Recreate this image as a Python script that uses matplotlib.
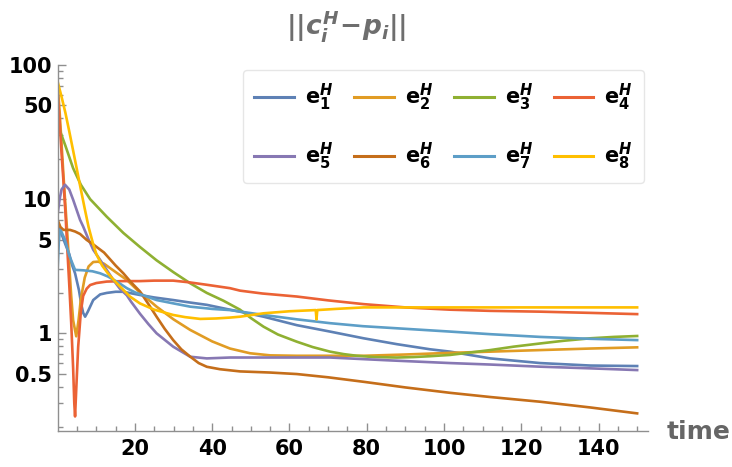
import matplotlib
matplotlib.use("Agg")
import matplotlib.pyplot as plt
from matplotlib.ticker import FixedLocator, NullFormatter

plt.rcParams['font.family'] = ['DejaVu Sans']
plt.rcParams['mathtext.fontset'] = 'custom'
plt.rcParams['mathtext.rm'] = 'DejaVu Sans:bold'
plt.rcParams['mathtext.bf'] = 'DejaVu Sans:bold'
plt.rcParams['mathtext.it'] = 'DejaVu Sans:bold:italic'

# ---- series: error norms over time ----
t1 = [0, 1, 2, 3, 3.6, 4.5, 5.5, 6.1, 6.6, 7.1, 7.8, 9.2, 11, 12.7, 15, 17, 21.3, 25, 29.9, 34, 38.6,
      44.6, 47.2, 53.3, 61.9, 70.5, 79.2, 87.8, 96.4, 101.6, 112, 124.9, 137.9, 150]
e1 = [6.5, 5.5, 4.6, 3.9, 3.3, 2.8, 2.1, 1.65, 1.42, 1.33, 1.45, 1.77, 1.95, 2.0, 2.04, 2.04, 1.93, 1.85,
      1.77, 1.7, 1.63, 1.5, 1.45, 1.33, 1.15, 1.03, 0.918, 0.83, 0.76, 0.73, 0.65, 0.60, 0.575, 0.57]

t2 = [0, 0.5, 1, 1.5, 2, 2.5, 3, 3.5, 4, 4.8, 5.4, 6, 7, 8, 9.2, 10.5, 12, 14, 17.9, 21, 25.6, 30, 34.3,
      40, 44.6, 49.8, 55, 61.9, 70, 79.2, 90, 101.6, 112, 124.9, 137.9, 150]
e2 = [72, 45, 26, 15, 9, 5.5, 3.2, 1.9, 1.25, 0.95, 1.25, 1.8, 2.6, 3.15, 3.4, 3.42, 3.3, 3.0, 2.5, 2.05,
      1.58, 1.27, 1.06, 0.87, 0.77, 0.71, 0.685, 0.68, 0.68, 0.68, 0.695, 0.715, 0.73, 0.75, 0.77, 0.786]

t3 = [0, 1, 2, 4, 6, 8.4, 12.7, 17, 21.3, 25.6, 30, 34.3, 38.6, 42.9, 47.2, 50, 53.3, 57, 61.9, 66, 70.5,
      74, 77.4, 82, 87.8, 92, 96.4, 101.6, 106, 112, 118, 124.9, 131, 137.9, 144, 150]
e3 = [36, 30, 25, 17, 12.8, 10, 7.4, 5.6, 4.4, 3.5, 2.85, 2.36, 2.0, 1.75, 1.5, 1.3, 1.12, 0.98, 0.866,
      0.79, 0.73, 0.70, 0.68, 0.665, 0.66, 0.665, 0.675, 0.69, 0.715, 0.75, 0.795, 0.84, 0.88, 0.918,
      0.94, 0.955]

t4 = [0, 0.5, 1, 1.5, 2, 2.5, 3, 3.5, 4, 4.3, 4.5, 4.8, 5.3, 6, 6.6, 7.5, 8.4, 10, 12.7, 17, 21.3, 25,
      29.9, 34, 38.6, 44.6, 47.2, 53, 61.9, 70, 79.2, 90, 101.6, 112, 124.9, 137.9, 150]
e4 = [62, 38, 22, 13.5, 8, 4.2, 2.3, 1.2, 0.55, 0.3, 0.24, 0.38, 0.79, 1.45, 1.9, 2.15, 2.29, 2.37, 2.43,
      2.45, 2.45, 2.47, 2.47, 2.4, 2.3, 2.17, 2.08, 1.98, 1.88, 1.76, 1.65, 1.56, 1.5, 1.47, 1.45, 1.42,
      1.39]

t5 = [0, 0.5, 1, 1.9, 3, 4, 5.8, 6.6, 8, 9.2, 11, 14.4, 16.1, 17.9, 19, 21.3, 23.5, 25.6, 29.9, 34.3,
      38.6, 44.6, 55, 70.5, 85, 101.6, 112, 124.9, 137.9, 150]
e5 = [7.8, 10, 11.8, 12.8, 11.8, 9.9, 7.0, 6.25, 5.0, 4.2, 3.52, 2.5, 2.15, 1.92, 1.72, 1.4, 1.17, 1.0,
      0.795, 0.669, 0.65, 0.66, 0.66, 0.66, 0.63, 0.60, 0.585, 0.564, 0.548, 0.532]

t6 = [0, 0.7, 1.5, 3.2, 4.5, 5.8, 7.5, 9.2, 12, 15, 17, 19, 21.3, 23.5, 25.6, 27.7, 29.9, 32, 34.3, 36.5,
      38.6, 42, 47.2, 55, 61.9, 70, 79.2, 90, 101.6, 112, 124.9, 137.9, 150]
e6 = [7.0, 6.2, 5.9, 5.9, 5.74, 5.5, 4.97, 4.6, 4.0, 3.2, 2.8, 2.4, 2.05, 1.65, 1.33, 1.08, 0.89, 0.76,
      0.67, 0.6, 0.563, 0.54, 0.52, 0.51, 0.497, 0.47, 0.435, 0.395, 0.36, 0.335, 0.309, 0.28, 0.253]

t7 = [0, 0.3, 0.6, 1.0, 1.9, 3, 4.5, 6.6, 9, 11, 13, 15.3, 17.9, 20, 25.6, 30, 34.3, 40, 44.6, 53.3, 62,
      70.5, 79, 87.8, 101.6, 112, 124.9, 137.9, 150]
e7 = [3.06, 4.8, 5.9, 5.7, 4.97, 3.8, 2.97, 2.95, 2.9, 2.8, 2.65, 2.43, 2.17, 2.02, 1.77, 1.67, 1.58,
      1.52, 1.49, 1.37, 1.27, 1.19, 1.13, 1.09, 1.03, 0.985, 0.94, 0.91, 0.89]

t8 = [0, 1, 2, 3, 4, 5, 6, 7, 8, 9.2, 10, 11.5, 13, 15.3, 18.7, 21.3, 25, 29.9, 33, 36.9, 41, 44.6, 47.2,
      53.3, 60, 66.8, 67.0, 67.2, 72, 79.2, 90, 101.6, 125, 150]
e8 = [75, 58, 44, 32, 23, 16.5, 11.8, 8.5, 6.2, 4.6, 3.9, 3.2, 2.8, 2.36, 1.88, 1.67, 1.5, 1.37, 1.32,
      1.28, 1.29, 1.31, 1.33, 1.41, 1.46, 1.49, 1.27, 1.49, 1.52, 1.56, 1.56, 1.56, 1.56, 1.56]

series = [(t1, e1), (t2, e2), (t3, e3), (t4, e4), (t5, e5), (t6, e6), (t7, e7), (t8, e8)]
labels = [r'$\mathrm{e}_{%d}^{H}$' % k for k in range(1, 9)]
colors = ['#5E81B5', '#E19C24', '#8FB032', '#EB6235', '#8778B3', '#C56E1A', '#5D9EC7', '#FFBF00']

x_ticks = [20, 40, 60, 80, 100, 120, 140]
y_ticks = [0.5, 1, 5, 10, 50, 100]
y_ticklabels = ['0.5', '1', '5', '10', '50', '100']

fig = plt.figure(figsize=(7.32, 4.67), dpi=100)
ax = fig.add_axes([0.0788, 0.0771, 0.8064, 0.7837])

handles = []
for (tt, vv), lab, c in zip(series, labels, colors):
    h, = ax.plot(tt, vv, color=c, lw=1.9, label=lab, solid_joinstyle='round')
    handles.append(h)

ax.set_yscale('log')
ax.set_xlim(0, 152.8)
ax.set_ylim(0.187, 100)

axis_gray = '#8f8f8f'
for s in ['top', 'right']:
    ax.spines[s].set_visible(False)
for s in ['left', 'bottom']:
    ax.spines[s].set_color(axis_gray)
    ax.spines[s].set_linewidth(1.0)

ax.xaxis.set_major_locator(FixedLocator(x_ticks))
ax.xaxis.set_minor_locator(FixedLocator([v for v in range(5, 155, 5) if v % 20]))
ax.yaxis.set_major_locator(FixedLocator(y_ticks))
ax.set_yticklabels(y_ticklabels)
minor_y = [m * d for d in (0.1, 1, 10) for m in range(2, 10) if m * d not in y_ticks and m * d >= 0.187]
ax.yaxis.set_minor_locator(FixedLocator(minor_y))
ax.yaxis.set_minor_formatter(NullFormatter())

ax.tick_params(which='both', direction='in', color=axis_gray, width=1.0)
ax.tick_params(which='major', length=6)
ax.tick_params(which='minor', length=3.5)
ax.tick_params(axis='x', which='major', pad=6, labelsize=15, labelcolor='black')
ax.tick_params(axis='y', which='major', pad=4, labelsize=15, labelcolor='black')
for lab in ax.get_xticklabels() + ax.get_yticklabels():
    lab.set_fontweight('bold')

fig.text(346 / 732, 1 - 26 / 467, r'$\mathbf{||}c_i^H\!-\!p_i\mathbf{||}$', ha='center', va='center',
         fontsize=19, color='#6e6e6e')
fig.text(667 / 732, 1 - 432 / 467, 'time', ha='left', va='center', fontsize=18,
         fontweight='bold', color='#666666')

# legend filled row by row: e1..e4 on top, e5..e8 below
order = [0, 4, 1, 5, 2, 6, 3, 7]
leg = ax.legend([handles[i] for i in order], [labels[i] for i in order], ncol=4,
                loc='upper left', bbox_to_anchor=(243 / 732, 1 - 70 / 467),
                bbox_transform=fig.transFigure, borderaxespad=0, fontsize=15,
                handlelength=1.9, handletextpad=0.53, columnspacing=1.0,
                labelspacing=1.35, borderpad=0.55, frameon=True, fancybox=True)
frame = leg.get_frame()
frame.set_edgecolor('#e6e6e6')
frame.set_linewidth(1.0)
frame.set_alpha(1)
for line in leg.get_lines():
    line.set_linewidth(2.2)

fig.savefig('out.png', dpi=100)
